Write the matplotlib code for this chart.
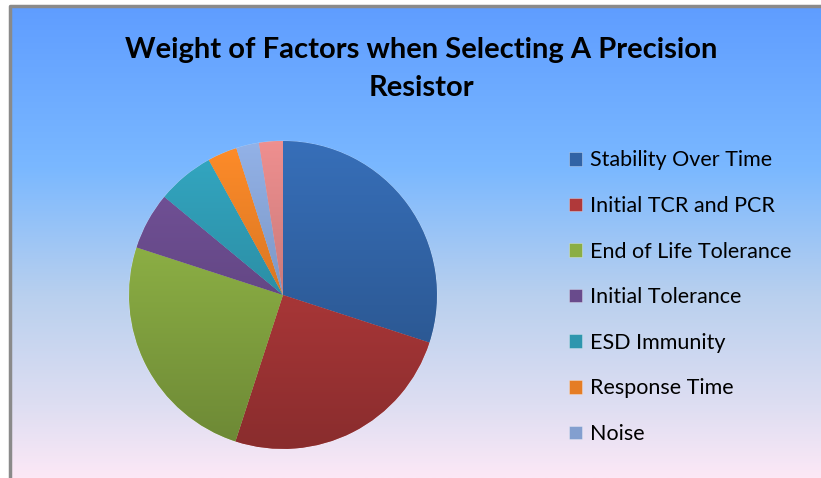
import numpy as np
import matplotlib
matplotlib.use("Agg")
import matplotlib.pyplot as plt
from matplotlib.colors import LinearSegmentedColormap, to_rgb
from matplotlib.patches import Rectangle

# data
factors = ["Stability Over Time", "Initial TCR and PCR", "End of Life Tolerance",
           "Initial Tolerance", "ESD Immunity", "Response Time", "Noise", "Other"]
weights = [30, 25, 25, 6, 6, 3.1, 2.4, 2.5]
n_legend = 7  # the original legend only lists the first seven

colors = ["#3163A5", "#B0393A", "#8BAE44", "#694B8C", "#2E96AE", "#E57D25", "#839FCF", "#D58080"]

W, H = 821, 478
fig = plt.figure(figsize=(W / 100, H / 100), dpi=100)

# background gradient (blue -> pale pink)
bg = fig.add_axes([0, 0, 1, 1])
bg.set_axis_off()
stops = [(0.0, (94/255, 156/255, 255/255)),
         (0.35, (122/255, 184/255, 255/255)),
         (0.62, (185/255, 208/255, 238/255)),
         (0.85, (222/255, 222/255, 242/255)),
         (1.0, (252/255, 232/255, 246/255))]
cmap_bg = LinearSegmentedColormap.from_list("bg", stops)
grad = np.linspace(0, 1, 256).reshape(-1, 1)
bg.imshow(grad, aspect="auto", cmap=cmap_bg, extent=[0, W, H, 0])
bg.set_xlim(0, W)
bg.set_ylim(H, 0)
# white margin + grey frame at left/top
bg.add_patch(Rectangle((0, 0), 9, H, color="white", zorder=2))
bg.add_patch(Rectangle((0, 0), W, 5, color="white", zorder=2))
bg.plot([10, 10, W], [H, 6, 6], color="#8a8a8a", lw=2.5, zorder=3, solid_capstyle="butt")

# title
fig.text(421 / W, 1 - 50 / H, "Weight of Factors when Selecting A Precision",
         ha="center", va="center", fontsize=21, fontweight="bold", family="Lato")
fig.text(421 / W, 1 - 88 / H, "Resistor",
         ha="center", va="center", fontsize=21, fontweight="bold", family="Lato")

# pie
cx, cy, r = 283, 295, 157
ax = fig.add_axes([(cx - r) / W, (H - cy - r) / H, 2 * r / W, 2 * r / H])
wedges, _ = ax.pie(weights, colors=colors, startangle=90, counterclock=False,
                   radius=1.0, wedgeprops=dict(linewidth=0.6, edgecolor=(1, 1, 1, 0.35)))
ax.set_xlim(-1.02, 1.02)
ax.set_ylim(-1.02, 1.02)

# vertical shading inside each slice
for w, c in zip(wedges, colors):
    base = np.array(to_rgb(c))
    top = np.clip(base * 1.12, 0, 1)
    bot = base * 0.78
    cm = LinearSegmentedColormap.from_list("s", [top, bot])
    im = ax.imshow(grad, cmap=cm, extent=[-1, 1, -1, 1], aspect="auto", zorder=w.get_zorder())
    im.set_clip_path(w)

# legend
leg = fig.legend(wedges[:n_legend], factors[:n_legend], loc="upper left",
                 bbox_to_anchor=(550 / W, 1 - 131 / H), frameon=False,
                 prop=dict(family="Lato", size=15.5), labelspacing=1.19,
                 handlelength=0.6, handleheight=0.6, handletextpad=0.35)

fig.savefig("out.png", dpi=100)
